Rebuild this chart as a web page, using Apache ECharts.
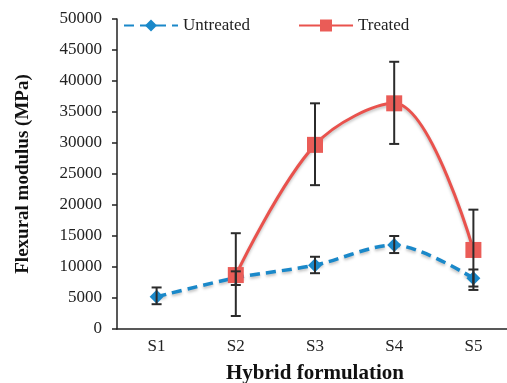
<!DOCTYPE html>
<html>
<head>
<meta charset="utf-8">
<script src="https://cdn.jsdelivr.net/npm/echarts@6/dist/echarts.min.js"></script>
<style>
html, body { margin: 0; padding: 0; background: #fff; }
#main { width: 507px; height: 383px; }
</style>
</head>
<body>
<div id="main"></div>
<script>
var categories = ['S1', 'S2', 'S3', 'S4', 'S5'];
var untreated = [5200, 8250, 10300, 13550, 8200];
var untreatedLow = [4000, 7100, 9000, 12250, 6850];
var untreatedHigh = [6700, 9300, 11650, 15000, 9600];
var treated = [null, 8700, 29700, 36400, 12750];
var treatedLow = [null, 2100, 23200, 29850, 6300];
var treatedHigh = [null, 15450, 36400, 43100, 19250];
var yTicks = [0, 5000, 10000, 15000, 20000, 25000, 30000, 35000, 40000, 45000, 50000];

var serif = '"Liberation Serif", "DejaVu Serif", serif';

function errData(low, high) {
	var out = [];
	for (var i = 0; i < categories.length; i++) {
		if (low[i] != null) out.push([i, low[i], high[i]]);
	}
	return out;
}

function renderErr(params, api) {
	var lo = api.coord([api.value(0), api.value(1)]);
	var hi = api.coord([api.value(0), api.value(2)]);
	var w = 5;
	var st = { stroke: '#2b2b2b', lineWidth: 2 };
	return {
		type: 'group',
		children: [
			{ type: 'line', shape: { x1: hi[0], y1: hi[1], x2: lo[0], y2: lo[1] }, style: st },
			{ type: 'line', shape: { x1: hi[0] - w, y1: hi[1], x2: hi[0] + w, y2: hi[1] }, style: st },
			{ type: 'line', shape: { x1: lo[0] - w, y1: lo[1], x2: lo[0] + w, y2: lo[1] }, style: st }
		]
	};
}

var chart = echarts.init(document.getElementById('main'));
var option = {
	animation: false,
	backgroundColor: '#fff',
	textStyle: { fontFamily: serif },
	legend: {
		left: 118,
		top: 12,
		itemWidth: 54,
		itemHeight: 15,
		itemGap: 48,
		textStyle: { fontFamily: serif, fontSize: 17, color: '#222' },
		data: ['Untreated', 'Treated']
	},
	grid: { left: 117, right: -6, top: 19, bottom: 54, containLabel: false, outerBoundsMode: 'none' },
	xAxis: {
		type: 'category',
		data: categories,
		name: 'Hybrid formulation',
		nameLocation: 'middle',
		nameGap: 34,
		nameTextStyle: { fontFamily: serif, fontSize: 21, fontWeight: 'bold', color: '#111' },
		axisLine: { lineStyle: { color: '#222', width: 1.5 } },
		axisTick: { length: 5, lineStyle: { color: '#222', width: 1.5 } },
		axisLabel: { fontFamily: serif, fontSize: 17, color: '#222', margin: 9 }
	},
	yAxis: {
		type: 'value',
		min: yTicks[0],
		max: yTicks[yTicks.length - 1],
		interval: 5000,
		name: 'Flexural modulus (MPa)',
		nameLocation: 'middle',
		nameGap: 84,
		nameTextStyle: { fontFamily: serif, fontSize: 19, fontWeight: 'bold', color: '#111' },
		splitLine: { show: false },
		axisLine: { show: true, lineStyle: { color: '#222', width: 1.5 } },
		axisTick: { show: true, length: 5, lineStyle: { color: '#222', width: 1.5 } },
		axisLabel: {
			fontFamily: serif, fontSize: 17, color: '#222', margin: 15,
			formatter: function (v) { return String(v); }
		}
	},
	series: [
		{
			name: 'Untreated',
			type: 'line',
			data: untreated,
			smooth: 0.3,
			symbol: 'diamond',
			symbolSize: 14,
			color: '#1a88c9',
			lineStyle: { type: [10, 6], width: 3.5, color: '#1a88c9', shadowBlur: 3, shadowColor: 'rgba(0,0,0,0.25)', shadowOffsetY: 2 },
			itemStyle: { color: '#1a88c9' },
			z: 2
		},
		{
			name: 'Treated',
			type: 'line',
			data: treated,
			smooth: 0.35,
			symbol: 'rect',
			symbolSize: 16,
			color: '#e9524d',
			lineStyle: { width: 3, color: '#e9524d', shadowBlur: 3, shadowColor: 'rgba(0,0,0,0.25)', shadowOffsetY: 2 },
			itemStyle: { color: '#ea5c57' },
			z: 3
		},
		{
			type: 'custom',
			renderItem: renderErr,
			data: errData(untreatedLow, untreatedHigh),
			encode: { x: 0, y: [1, 2] },
			z: 4,
			silent: true
		},
		{
			type: 'custom',
			renderItem: renderErr,
			data: errData(treatedLow, treatedHigh),
			encode: { x: 0, y: [1, 2] },
			z: 4,
			silent: true
		}
	]
};
chart.setOption(option);
window.addEventListener('resize', chart.resize);
</script>
</body>
</html>
